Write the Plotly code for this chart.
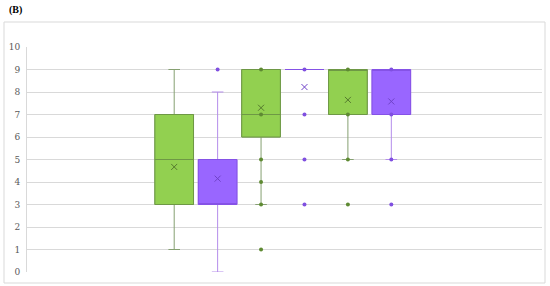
import plotly.graph_objects as go

# ---- data ----
positions = [1, 2, 3, 4, 5, 6]
series = ["green", "purple", "green", "purple", "green", "purple"]
q1 = [3, 3, 6, 9, 7, 7]
median = [5, 3, 7, 9, 9, 9]
q3 = [7, 5, 9, 9, 9, 9]
lower = [1, 0, 3, 9, 5, 5]
upper = [9, 8, 9, 9, 9, 9]
means = [4.67, 4.15, 7.3, 8.22, 7.65, 7.58]
points = [
    [],
    [9],
    [9, 7, 5, 4, 3, 1],
    [9, 7, 5, 3],
    [9, 7, 5, 3],
    [9, 7, 5, 3],
]
yticks = list(range(0, 11))

style = {
    "green": dict(fill="#92D050", line="#6E9845", whisk="#86A072", dot="#5E8A32", mean="#557A2E"),
    "purple": dict(fill="#9966FF", line="#8552E6", whisk="#B48CEB", dot="#7F4FE0", mean="#6F42C8"),
}

fig = go.Figure()
for i, p in enumerate(positions):
    s = style[series[i]]
    # whiskers (lighter colour)
    fig.add_trace(go.Box(
        x=[p], q1=[q1[i]], median=[median[i]], q3=[q3[i]],
        lowerfence=[lower[i]], upperfence=[upper[i]],
        width=0.89, whiskerwidth=0.3,
        fillcolor=s["fill"], line=dict(color=s["whisk"], width=1),
        boxpoints=False, showlegend=False, hoverinfo="skip",
    ))
    # box body with darker outline
    fig.add_trace(go.Box(
        x=[p], q1=[q1[i]], median=[median[i]], q3=[q3[i]],
        lowerfence=[q1[i]], upperfence=[q3[i]],
        width=0.89, whiskerwidth=0.0,
        fillcolor=s["fill"], line=dict(color=s["line"], width=1),
        boxpoints=False, showlegend=False, hoverinfo="skip",
    ))
    if points[i]:
        fig.add_trace(go.Scatter(
            x=[p] * len(points[i]), y=points[i], mode="markers",
            marker=dict(size=4, color=s["dot"]), showlegend=False, hoverinfo="skip",
        ))
    fig.add_trace(go.Scatter(
        x=[p], y=[means[i]], mode="markers",
        marker=dict(symbol="x-thin", size=6, line=dict(width=1, color=s["mean"])),
        showlegend=False, hoverinfo="skip",
    ))

L, R, T, B = 27, 8, 47, 14
W, H = 550 - L - R, 286 - T - B

def px_x(px):
    return (px - L) / W

def px_y(py):
    return (286 - B - py) / H

fig.update_layout(
    width=550, height=286,
    boxmode="overlay",
    margin=dict(l=L, r=R, t=T, b=B),
    paper_bgcolor="white", plot_bgcolor="white",
    font=dict(family="DejaVu Serif", size=9, color="#595959"),
    xaxis=dict(range=[-2.39, 9.47], showticklabels=False, showgrid=False,
               zeroline=False, showline=False, ticks=""),
    yaxis=dict(range=[0, 10], tickvals=yticks, ticktext=[str(v) for v in yticks],
               showgrid=True, gridcolor="#D9D9D9", gridwidth=1,
               zeroline=False, showline=True, linecolor="#D9D9D9", linewidth=1,
               ticks="", ticklabelstandoff=4,
               tickfont=dict(family="DejaVu Serif", size=9, color="#595959")),
    shapes=[dict(type="rect", xref="paper", yref="paper",
                 x0=px_x(4), x1=px_x(545), y0=px_y(283), y1=px_y(22),
                 line=dict(color="#D9D9D9", width=1), fillcolor="rgba(0,0,0,0)",
                 layer="below")],
    annotations=[dict(text="<b>(B)</b>", xref="paper", yref="paper",
                      x=px_x(7), y=px_y(10.5), xanchor="left", yanchor="middle",
                      showarrow=False,
                      font=dict(family="Liberation Serif", size=10, color="black"))],
)

fig.write_html("out.html",
               config={"displayModeBar": False},
               post_script="document.body.style.margin='0';document.body.style.padding='0';")
